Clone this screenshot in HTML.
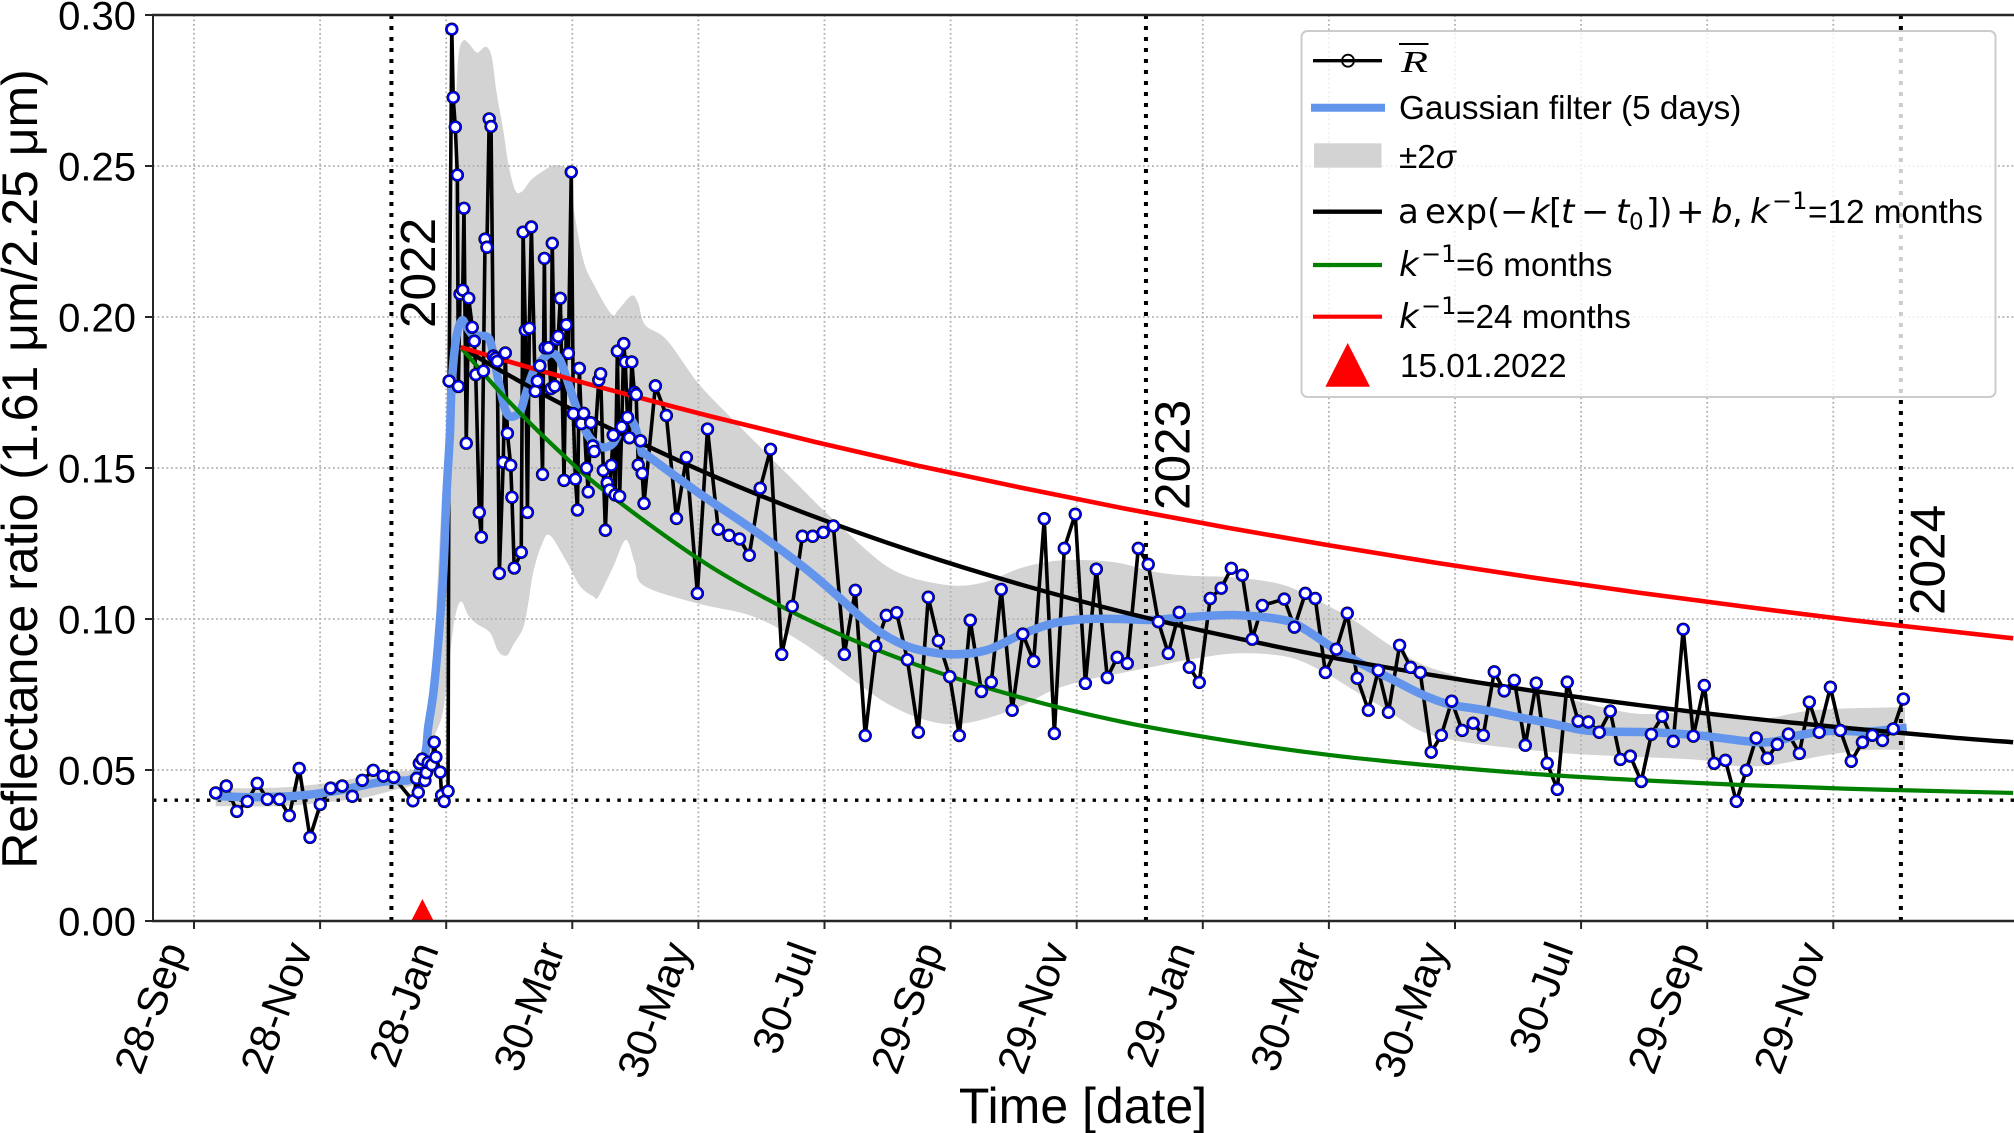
<!DOCTYPE html>
<html lang="en">
<head>
<meta charset="utf-8">
<title>Reflectance ratio over time</title>
<style>
html,body{margin:0;padding:0;background:#fff;width:2014px;height:1133px;overflow:hidden}
svg{display:block;font-family:"Liberation Sans",sans-serif}
.m{font-family:"DejaVu Sans",sans-serif}
</style>
</head>
<body>
<svg id="chart" xmlns="http://www.w3.org/2000/svg" width="2014" height="1133" viewBox="0 0 2014 1133">
  <defs><clipPath id="axes-clip"><rect x="153" y="15" width="1861" height="906"/></clipPath></defs>
  <g id="plot" clip-path="url(#axes-clip)"></g>
  <g id="axes"></g>
  <text x="1083" y="1123" font-size="50" text-anchor="middle">Time [date]</text>
  <text transform="translate(37,469) rotate(-90)" font-size="50" text-anchor="middle">Reflectance ratio (1.61 μm/2.25 μm)</text>
  <g>
    <rect x="1301.5" y="31" width="694" height="366" rx="6" fill="#fff" fill-opacity="0.8" stroke="#ccc" stroke-width="2"/>
    <g>
      <line x1="1313" x2="1382" y1="60.7" y2="60.7" stroke="#000" stroke-width="3.4"/>
      <circle cx="1348" cy="60.7" r="6" fill="none" stroke="#000" stroke-width="1.8"/>
      <line x1="1399" x2="1428.5" y1="44" y2="44" stroke="#000" stroke-width="2"/>
      <text x="1401" y="72" font-size="31" font-style="italic" font-family="'Liberation Serif',serif" textLength="27" lengthAdjust="spacingAndGlyphs">R</text>
    </g>
    <g>
      <line x1="1311" x2="1385" y1="107.7" y2="107.7" stroke="#6495ed" stroke-width="8"/>
      <text x="1399" y="119" font-size="33.3">Gaussian filter (5 days)</text>
    </g>
    <g>
      <rect x="1314" y="143.3" width="67.5" height="24.4" fill="#d3d3d3"/>
      <text x="1399" y="168" font-size="33.3">±2<tspan font-style="italic">σ</tspan></text>
    </g>
    <g>
      <line x1="1313" x2="1382" y1="211.7" y2="211.7" stroke="#000" stroke-width="4.4"/>
      <text y="223" font-size="34"><tspan class="m" x="1398">a</tspan><tspan class="m" x="1425">exp(</tspan><tspan class="m" x="1500">−</tspan><tspan class="m" x="1530" font-style="italic">k</tspan><tspan class="m" x="1549">[</tspan><tspan class="m" x="1561" font-style="italic">t</tspan><tspan class="m" x="1581">−</tspan><tspan class="m" x="1616" font-style="italic">t</tspan><tspan class="m" x="1629" font-size="23" dy="6.5">0</tspan><tspan class="m" x="1646" dy="-6.5">])</tspan><tspan class="m" x="1676">+</tspan><tspan class="m" x="1711" font-style="italic">b</tspan><tspan class="m" x="1732">,</tspan><tspan class="m" x="1750" font-style="italic">k</tspan><tspan class="m" x="1772" font-size="24" dy="-14">−1</tspan><tspan x="1808" dy="14" font-size="33.3">=12 months</tspan></text>
    </g>
    <g>
      <line x1="1313" x2="1382" y1="265" y2="265" stroke="#008000" stroke-width="4.2"/>
      <text y="276" font-size="34"><tspan class="m" x="1399" font-style="italic">k</tspan><tspan class="m" x="1421" font-size="24" dy="-14">−1</tspan><tspan x="1456" dy="14" font-size="33.3">=6 months</tspan></text>
    </g>
    <g>
      <line x1="1313" x2="1382" y1="316.7" y2="316.7" stroke="#f00" stroke-width="4.2"/>
      <text y="328" font-size="34"><tspan class="m" x="1399" font-style="italic">k</tspan><tspan class="m" x="1421" font-size="24" dy="-14">−1</tspan><tspan x="1456" dy="14" font-size="33.3">=24 months</tspan></text>
    </g>
    <g>
      <polygon points="1347.7,343 1370,386.7 1325.4,386.7" fill="#f00"/>
      <text x="1400" y="377" font-size="33.3">15.01.2022</text>
    </g>
  </g>
</svg>
<script>
// ---- chart data (days since 28 Sep 2021) ----
const xTickDays = [0,61,122,183,244,305,366,427,488,549,610,671,732,793];
const xTickLabels = ["28-Sep","28-Nov","28-Jan","30-Mar","30-May","30-Jul","29-Sep","29-Nov","29-Jan","30-Mar","30-May","30-Jul","29-Sep","29-Nov"];
const yTickValues = [0,0.05,0.10,0.15,0.20,0.25,0.30];
const yTickLabels = ["0.00","0.05","0.10","0.15","0.20","0.25","0.30"];
const yearDays = [95.5,460.5,825.7];
const yearLabels = ["2022","2023","2024"];
const baselineValue = 0.04;
const eventDay = 110.5;

const meanDays = [10.5,15.6,20.7,25.8,30.6,35.5,41.3,46.1,50.9,56.1,61.1,66.1,71.7,76.6,81.4,86.7,91.6,96.6,
105.9,107.7,108.5,109,110.4,111.7,112.4,113.3,115,116.2,117,119.1,119.8,121,122.9,
123.4,124.7,125.4,126.4,127.4,127.9,128.7,130,130.6,131.7,132.9,134.6,135.6,136.3,138,139,140,140.8,141.7,142.8,143.7,144.8,145.9,146.7,147.7,149.6,150.6,151.6,153.2,153.8,154.9,158.3,159.2,160.3,161.3,162.2,163.2,165.1,166.1,167.3,168.6,169.5,169.9,171.4,172.7,173.3,174.5,175.3,176.2,177.2,179,180.1,181.1,182.5,183.5,184.5,185.5,186.4,187.4,188.5,189.9,190.7,191.9,192.9,193.6,195.8,196.7,198,199,199.9,201,201.9,202.8,203.7,204.8,205.9,206.9,207.9,208.6,209.7,210.6,211.8,213,213.9,214.9,216,216.8,217.7,
223.2,228.5,233.4,238.2,243.5,248.4,253.6,258.8,263.9,268.6,273.9,278.9,284.3,289.4,294.3,299.3,304.4,309.3,314.6,319.9,324.7,329.8,334.9,339.9,345.1,350.4,355.2,360.1,365.6,370.2,375.5,380.9,385.7,390.5,395.8,400.9,406.2,411.3,416.2,421,426.3,431.2,436.5,441.8,446.6,451.5,456.8,461.6,466.5,471.3,476.6,481.5,486.3,491.6,496.9,501.8,507.1,511.9,516.8,527.4,532.3,537.6,542.4,547.3,552.6,557.9,562.7,568.1,572.9,577.8,583.2,588.5,593.2,598.5,603.4,608.4,613.5,618.8,623.7,629,633.8,638.7,644,649.3,654.6,659.5,664.3,669.6,674.5,679.8,685.1,690,694.8,700.1,705,710.3,715.6,720.4,725.3,730.6,735.4,740.8,746.1,750.9,755.7,761.1,765.9,771.3,776.6,781.4,786.2,791.6,796.4,801.7,807.1,811.9,816.8,822,826.9];
const meanValues = [.0424,.0447,.0363,.0396,.0456,.0403,.0403,.0349,.0505,.0277,.0386,.0440,.0447,.0413,.0466,.0499,.0480,.0476,
.0398,.0472,.0426,.0522,.0536,.0465,.0491,.0525,.0517,.0592,.0543,.0493,.0416,.0396,.0430,
.1788,.2953,.2727,.2629,.2470,.1770,.2076,.2089,.2360,.1582,.2062,.1966,.1920,.1809,.1353,.1271,.1821,.2258,.2231,.2656,.2631,.1871,.1863,.1853,.1151,.1519,.1881,.1615,.1509,.1403,.1169,.1221,.2281,.1956,.1353,.1963,.2298,.1754,.1788,.1838,.1479,.2194,.1898,.1898,.1763,.2244,.1771,.1926,.1936,.2062,.1459,.1974,.1880,.2480,.1680,.1463,.1361,.1830,.1647,.1681,.1500,.1421,.1650,.1573,.1555,.1791,.1812,.1492,.1294,.1451,.1427,.1509,.1609,.1411,.1887,.1406,.1636,.1912,.1851,.1668,.1600,.1851,.1751,.1743,.1510,.1590,.1482,.1383,
.1772,.1674,.1333,.1535,.1085,.1629,.1297,.1277,.1265,.1211,.1433,.1562,.0883,.1042,.1274,.1274,.1287,.1308,.0883,.1095,.0614,.0910,.1012,.1021,.0865,.0625,.1072,.0928,.0809,.0614,.0996,.0760,.0791,.1098,.0698,.0950,.0860,.1332,.0621,.1234,.1347,.0787,.1165,.0806,.0873,.0853,.1234,.1181,.0991,.0886,.1022,.0840,.0790,.1068,.1102,.1168,.1145,.0933,.1045,.1066,.0973,.1085,.1068,.0823,.0900,.1019,.0804,.0698,.0830,.0691,.0913,.0840,.0823,.0559,.0615,.0728,.0631,.0655,.0615,.0825,.0762,.0797,.0582,.0788,.0522,.0436,.0791,.0662,.0659,.0625,.0695,.0535,.0546,.0462,.0618,.0678,.0595,.0966,.0612,.0780,.0522,.0532,.0396,.0499,.0606,.0539,.0585,.0619,.0555,.0725,.0625,.0774,.0631,.0529,.0592,.0615,.0598,.0636,.0735];

const gaussDays = [10.5,25.5,46.4,61,74,86.6,96.3,105.9,111.7,113.3,115.8,118.2,120.6,122.2,123.8,124.6,126.7,129.5,131.9,135.1,141.6,144,147.2,150.4,153.2,157.7,160.1,164.1,169,173,177,181.1,185.1,190,194,198,202.8,206.9,209.8,213.3,216.6,219,243.2,270.6,294.7,310.9,327,339.9,351.2,367.3,383.5,399.6,415.7,431.8,447.9,464,480.2,504.4,526.9,536.6,552.8,568.9,580.2,594.7,607.6,623.7,639.8,655.9,672.1,685,704.4,728.5,752.7,764,777,793,809.2,828.5];
const gaussValues = [.0414,.0410,.0413,.0423,.0437,.0456,.0465,.0473,.0551,.0642,.0756,.0927,.1155,.1420,.1611,.1769,.1924,.1988,.1968,.1940,.1935,.1902,.1791,.1698,.1670,.1686,.1736,.1819,.1863,.1880,.1858,.1780,.1698,.1615,.1582,.1568,.1582,.1637,.1668,.1637,.1554,.1543,.1422,.1295,.1173,.1079,.0980,.0925,.0897,.0883,.0897,.0947,.0986,.1000,.1000,.0997,.1006,.1013,.0997,.0969,.0897,.0837,.0798,.0748,.0717,.0699,.0676,.0655,.0632,.0627,.0625,.0614,.0594,.0594,.0616,.0630,.0627,.0640];

const bandUpperDays = [10.5,41.6,61,81.9,96.4,106.1,110.9,116.6,117.3,119.8,120.9,123.8,125.3,126.3,127.1,128.3,130.6,133.5,137,141.1,144,146.4,149.6,152,155.3,158.5,163.4,169,174.7,181.1,183.5,188.3,194,202,205.2,211.7,214.9,218.2,228.7,243.8,259.3,278.6,286.7,306.1,327,338.3,351.2,368.9,383.5,399.6,415.7,431.8,447.9,464,480.2,504.4,526.9,544.7,560.8,576.9,593.1,609.2,628.5,647.9,667.2,696.1,718.9,744.4,760.8,785,827.7];
const bandUpperValues = [.0439,.0442,.0454,.0477,.0494,.0502,.0551,.0813,.1041,.1383,.1497,.1835,.2278,.2609,.2775,.2884,.2917,.2901,.2875,.2895,.2862,.2742,.2619,.2510,.2421,.2415,.2456,.2484,.2503,.2481,.2365,.2189,.2100,.2009,.2023,.2071,.2045,.1974,.1924,.1782,.1670,.1537,.1482,.1350,.1218,.1162,.1129,.1110,.1124,.1168,.1192,.1195,.1185,.1157,.1144,.1137,.1113,.1057,.0997,.0920,.0853,.0815,.0781,.0765,.0732,.0688,.0689,.0677,.0671,.0699,.0708];
const bandLowerDays = [10.5,41.6,61,81.9,96.4,106.1,110.9,113.3,117.4,120.6,123.8,126.3,129.2,132.7,136.8,143.2,147.2,151.3,154.5,159.3,161.7,164.1,168.2,172.2,180.3,186.7,193.2,195.6,202.8,208.9,213.3,217.7,243.2,270.6,294.7,318.9,335.1,351.2,367.3,383.5,399.6,415.7,431.8,447.9,464,480.2,504.4,528.6,544.7,560.8,576.9,593.1,609.2,631.8,664,696.1,728.5,744.6,760.8,777,793,809.2,827.7];
const bandLowerValues = [.0380,.0380,.0391,.0408,.0433,.0450,.0482,.0562,.0630,.0699,.0881,.1007,.1058,.1012,.0984,.0955,.0893,.0879,.0915,.0972,.1052,.1155,.1246,.1277,.1189,.1109,.1075,.1074,.1173,.1262,.1184,.1110,.1052,.1008,.0920,.0798,.0721,.0671,.0651,.0671,.0710,.0765,.0798,.0820,.0842,.0864,.0886,.0875,.0831,.0765,.0699,.0630,.0599,.0577,.0555,.0544,.0533,.0514,.0514,.0533,.0553,.0566,.0566];

const fitDays = [129,150,175,200,250,300,350,400,450,500,550,600,650,700,750,800,850,880];
const fit12Values = [.19,.1816,.1722,.1635,.1477,.1339,.1219,.1114,.1022,.0943,.0873,.0813,.0760,.0714,.0673,.0639,.0608,.0592];
const fit6Values = [.19,.1737,.1566,.1417,.1173,.0988,.0847,.0740,.0658,.0597,.0549,.0514,.0486,.0466,.0450,.0438,.0429,.0424];
const fit24Values = [.19,.1857,.1808,.1761,.1671,.1587,.1508,.1435,.1366,.1302,.1243,.1187,.1135,.1086,.1041,.0998,.0959,.0936];

// ---- axis functions ----
function xScale(day){ return 194 + day * 2.0672; }
function yScale(val){ return 921 - val * 3020; }

const NS = 'http://www.w3.org/2000/svg';
const plot = document.getElementById('plot');
const axes = document.getElementById('axes');
function make(tag, parent, props){
  const el = document.createElementNS(NS, tag);
  for (const k in props) el.setAttribute(k, props[k]);
  parent.appendChild(el);
  return el;
}
function smoothSegments(xs, ys, first){
  let d = (first ? 'M' : 'L') + xs[0].toFixed(2) + ' ' + ys[0].toFixed(2);
  for (let i = 0; i < xs.length - 1; i++){
    const i0 = Math.max(i - 1, 0), i3 = Math.min(i + 2, xs.length - 1);
    const c1x = xs[i] + (xs[i + 1] - xs[i0]) / 6, c1y = ys[i] + (ys[i + 1] - ys[i0]) / 6;
    const c2x = xs[i + 1] - (xs[i3] - xs[i]) / 6, c2y = ys[i + 1] - (ys[i3] - ys[i]) / 6;
    d += 'C' + c1x.toFixed(2) + ' ' + c1y.toFixed(2) + ' ' + c2x.toFixed(2) + ' ' + c2y.toFixed(2) + ' ' + xs[i + 1].toFixed(2) + ' ' + ys[i + 1].toFixed(2);
  }
  return d;
}
function curvePath(days, vals){
  return smoothSegments(days.map(xScale), vals.map(yScale), true);
}

// confidence band
const bandD = smoothSegments(bandUpperDays.map(xScale), bandUpperValues.map(yScale), true)
  + smoothSegments(bandLowerDays.map(xScale).reverse(), bandLowerValues.map(yScale).reverse(), false) + 'Z';
const band = make('path', plot, {d: bandD, fill: '#d3d3d3'});



// grid
const gridProps = {stroke: '#b0b0b0', 'stroke-width': 1.8, 'stroke-dasharray': '1.8 2.7'};
xTickDays.forEach(function(day){
  const g = make('line', plot, Object.assign({x1: xScale(day), x2: xScale(day), y1: 15, y2: 921}, gridProps));
  
  
});
yTickValues.forEach(function(val){
  const g = make('line', plot, Object.assign({x1: 153, x2: 2014, y1: yScale(val), y2: yScale(val)}, gridProps));
  
  
});

// year lines and baseline
yearDays.forEach(function(day){
  const l = make('line', plot, {x1: xScale(day), x2: xScale(day), y1: 15, y2: 921, stroke: '#000', 'stroke-width': 4, 'stroke-dasharray': '4 7'});
  
  
});
const base = make('line', plot, {x1: 153, x2: 2014, y1: yScale(baselineValue), y2: yScale(baselineValue), stroke: '#000', 'stroke-width': 3.4, 'stroke-dasharray': '3.4 7.4'});



// mean line
const meanLine = make('polyline', plot, {
  points: meanDays.map(function(day, i){ return xScale(day).toFixed(2) + ',' + yScale(meanValues[i]).toFixed(2); }).join(' '),
  fill: 'none', stroke: '#000', 'stroke-width': 3.6, 'stroke-linejoin': 'round'
});



// gaussian filter
const gaussLine = make('path', plot, {d: curvePath(gaussDays, gaussValues), fill: 'none', stroke: '#6495ed', 'stroke-width': 8.5, 'stroke-linejoin': 'round'});



// fits
const fit12 = make('path', plot, {d: curvePath(fitDays, fit12Values), fill: 'none', stroke: '#000', 'stroke-width': 4.4});


const fit6 = make('path', plot, {d: curvePath(fitDays, fit6Values), fill: 'none', stroke: '#008000', 'stroke-width': 4.2});


const fit24 = make('path', plot, {d: curvePath(fitDays, fit24Values), fill: 'none', stroke: '#f00', 'stroke-width': 4.6});



// markers
meanDays.forEach(function(day, i){
  const cx = xScale(day), cy = yScale(meanValues[i]);
  const halo = make('circle', plot, {cx: cx, cy: cy, r: 6.7, fill: '#000'});
  
  
  const pt = make('circle', plot, {cx: cx, cy: cy, r: 5, fill: '#fff', stroke: '#0000ff', 'stroke-width': 2});
  
  
});

// event marker (clipped by the axis)
const ex = xScale(eventDay), ey = yScale(0);
const eventMark = make('polygon', plot, {points: ex + ',' + (ey - 22) + ' ' + (ex + 22.5) + ',' + (ey + 22) + ' ' + (ex - 22.5) + ',' + (ey + 22), fill: '#f00'});



// year labels
yearDays.forEach(function(day, i){
  const t = make('text', axes, {transform: 'translate(' + (xScale(day) + 43.5) + ',' + [328, 510, 615][i] + ') rotate(-90)', 'font-size': 49.5});
  t.textContent = yearLabels[i];
  
  
});

// spines
const spineProps = {stroke: '#262626'};
const topSpine = make('line', axes, Object.assign({x1: 152, x2: 2014, y1: 15, y2: 15, 'stroke-width': 2.4}, spineProps));


const bottomSpine = make('line', axes, Object.assign({x1: 152, x2: 2014, y1: 921, y2: 921, 'stroke-width': 2.4}, spineProps));


const leftSpine = make('line', axes, Object.assign({x1: 153, x2: 153, y1: 14, y2: 922, 'stroke-width': 2}, spineProps));



// ticks and labels
xTickDays.forEach(function(day, i){
  const x = xScale(day);
  const tick = make('line', axes, {x1: x, x2: x, y1: 921, y2: 929, stroke: '#262626', 'stroke-width': 2});
  
  
  const t = make('text', axes, {transform: 'translate(' + (x - 7) + ',949) rotate(-70)', 'font-size': 42, 'text-anchor': 'end'});
  t.textContent = xTickLabels[i];
  
  
});
yTickValues.forEach(function(val, i){
  const y = yScale(val);
  const tick = make('line', axes, {x1: 145, x2: 153, y1: y, y2: y, stroke: '#262626', 'stroke-width': 2});
  
  
  const t = make('text', axes, {x: 136, y: y + 14.5, 'font-size': 40, 'text-anchor': 'end'});
  t.textContent = yTickLabels[i];
  
  
});
</script>
</body>
</html>
